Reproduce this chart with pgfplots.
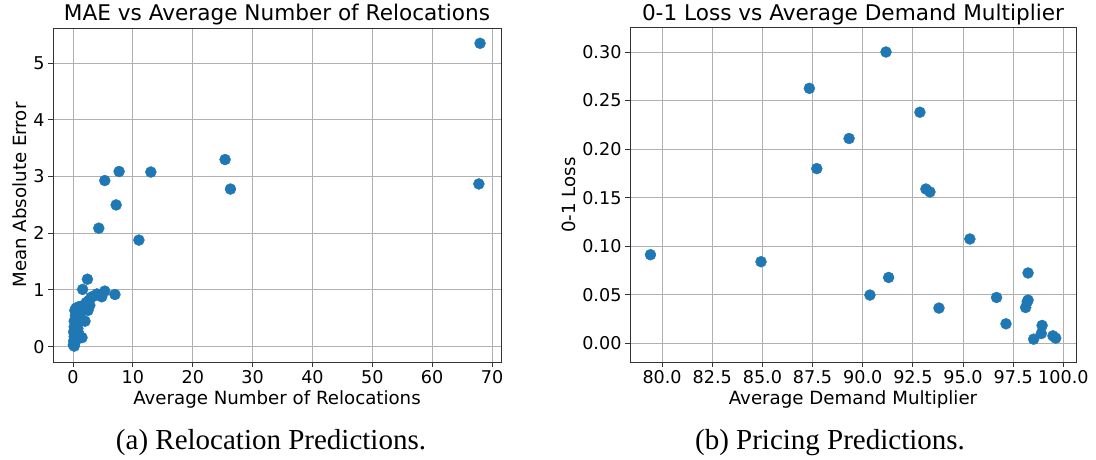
\documentclass[border=0pt]{standalone}
\usepackage{pgfplots}
\pgfplotsset{compat=1.18}
\usepackage{fontspec}
\setmainfont{DejaVu Sans}
\newfontfamily\capfont{Liberation Serif}
\definecolor{mplblue}{HTML}{1F77B4}
\definecolor{gridgray}{HTML}{B0B0B0}
\pgfplotsset{mystyle/.style={
  scale only axis, height=334pt,
  axis line style={black!80, line width=1pt},
  grid=major, major grid style={gridgray, line width=1pt},
  tick align=outside, tick pos=left, major tick length=5pt,
  tick style={black!80, line width=1pt},
  /pgf/number format/assume math mode=true,
  tick label style={font=\fontsize{17.6}{20}\selectfont},
  label style={font=\fontsize{18.2}{21}\selectfont},
  title style={font=\fontsize{21.6}{24}\selectfont, yshift=-7pt},
}}
\begin{document}
\begin{tikzpicture}
\useasboundingbox (0,0) rectangle (1096pt,459pt);
\begin{axis}[mystyle, width=448pt, at={(53pt,97pt)}, anchor=south west,
  xmin=-3.35, xmax=71.5, ymin=-0.27, ymax=5.62,
  xtick={0,10,...,70}, ytick={0,1,...,5},
  title={MAE vs Average Number of Relocations},
  xlabel={Average Number of Relocations},
  ylabel={Mean Absolute Error}]
\addplot[only marks, mark=*, mark size=5.5pt, color=mplblue, mark options={draw=mplblue, fill=mplblue}] coordinates {
(68.0,5.35) (67.8,2.87) (25.4,3.30) (26.3,2.78) (13.0,3.08) (7.7,3.09)
(5.3,2.93) (7.2,2.50) (4.3,2.09) (11.0,1.88) (2.4,1.19) (1.6,1.01)
(5.3,0.98) (7.0,0.92) (4.5,0.91) (4.0,0.93) (4.8,0.88) (3.4,0.89)
(3.0,0.87) (2.6,0.81) (2.2,0.78) (2.8,0.73) (2.5,0.64) (1.7,0.72)
(1.2,0.71) (0.9,0.70) (0.5,0.68) (0.3,0.64) (0.6,0.60) (0.4,0.55)
(1.1,0.56) (2.0,0.45) (1.5,0.47) (0.4,0.41) (0.2,0.45) (0.2,0.35)
(0.4,0.30) (0.8,0.32) (0.1,0.26) (0.6,0.25) (1.0,0.22) (1.5,0.16)
(0.7,0.15) (0.4,0.12) (0.2,0.18) (0.3,0.06) (0.1,0.10) (0.2,0.01)
(0.05,0.03)
};
\end{axis}
\begin{axis}[mystyle, width=446pt, at={(630pt,97pt)}, anchor=south west,
  xmin=78.4, xmax=100.63, ymin=-0.019, ymax=0.3247,
  xtick={80,82.5,...,100}, ytick={0,0.05,...,0.30},
  xticklabel style={/pgf/number format/.cd, fixed, fixed zerofill, precision=1},
  yticklabel style={/pgf/number format/.cd, fixed, fixed zerofill, precision=2},
  scaled ticks=false,
  title={0-1 Loss vs Average Demand Multiplier},
  xlabel={Average Demand Multiplier},
  ylabel={0-1 Loss}]
\addplot[only marks, mark=*, mark size=5.5pt, color=mplblue, mark options={draw=mplblue, fill=mplblue}] coordinates {
(79.42,0.0914) (84.93,0.0842) (87.34,0.2626) (87.71,0.180) (89.32,0.211)
(90.36,0.0499) (91.16,0.300) (91.29,0.068) (92.85,0.238) (93.15,0.159)
(93.35,0.156) (93.80,0.0365) (95.34,0.1076) (96.67,0.0474) (97.14,0.0203)
(98.12,0.0371) (98.20,0.0430) (98.24,0.0447) (98.24,0.0726) (98.52,0.0045)
(98.90,0.0103) (98.94,0.0186) (99.48,0.0079) (99.62,0.0056)
};
\end{axis}
\node[font=\capfont\fontsize{29}{32}\selectfont, anchor=base] at (271pt,10pt) {(a) Relocation Predictions.};
\node[font=\capfont\fontsize{29}{32}\selectfont, anchor=base] at (830pt,10pt) {(b) Pricing Predictions.};
\end{tikzpicture}
\end{document}
